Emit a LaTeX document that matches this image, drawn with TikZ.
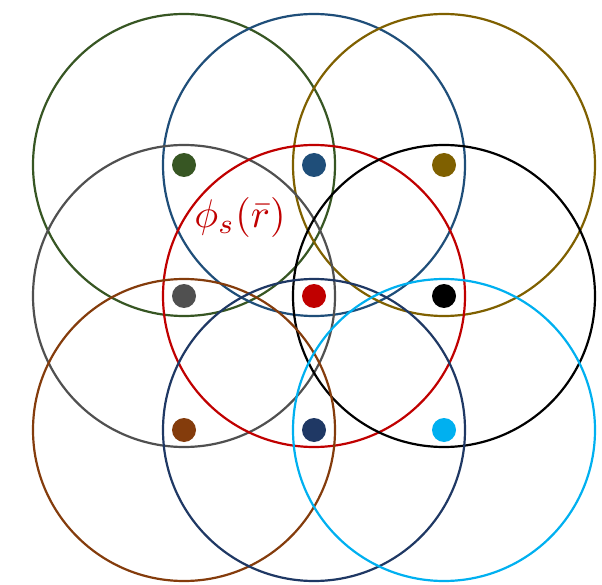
\documentclass[tikz,border=0pt]{standalone}
\usepackage{amsmath}
\usepackage{graphicx}
\usepackage{tikz}

\definecolor{verde}{HTML}{375623}
\definecolor{azul}{HTML}{1F4E79}
\definecolor{oliva}{HTML}{7F6000}
\definecolor{cinza}{HTML}{505050}
\definecolor{vermelho}{HTML}{C00000}
\definecolor{marrom}{HTML}{843C0C}
\definecolor{marinho}{HTML}{1F3864}
\definecolor{ciano}{HTML}{00B0F0}

\begin{document}
\begin{tikzpicture}[
  x=1pt, y=-1pt,
  orbita/.style={line width=2.2pt},
  ponto/.style={circle, fill, inner sep=0pt, minimum size=24pt},
  rotulo/.style={text=vermelho, inner sep=0pt},
]
\useasboundingbox (0,0) rectangle (602,585);

% ---- Centros ----------------------------------------------------------------
\coordinate (c11) at (184,165);
\coordinate (c12) at (314,165);
\coordinate (c13) at (444,165);
\coordinate (c21) at (184,296);
\coordinate (c22) at (314,296);
\coordinate (c23) at (444,296);
\coordinate (c31) at (184,430);
\coordinate (c32) at (314,430);
\coordinate (c33) at (444,430);

% ---- Circulos ---------------------------------------------------------------
\draw[orbita, verde]    (c11) circle (151pt);
\draw[orbita, azul]     (c12) circle (151pt);
\draw[orbita, oliva]    (c13) circle (151pt);
\draw[orbita, cinza]    (c21) circle (151pt);
\draw[orbita, vermelho] (c22) circle (151pt);
\draw[orbita, black]    (c23) circle (151pt);
\draw[orbita, marrom]   (c31) circle (151pt);
\draw[orbita, marinho]  (c32) circle (151pt);
\draw[orbita, ciano]    (c33) circle (151pt);

% ---- Pontos -----------------------------------------------------------------
\node[ponto, verde]    (p11) at (c11) {};
\node[ponto, azul]     (p12) at (c12) {};
\node[ponto, oliva]    (p13) at (c13) {};
\node[ponto, cinza]    (p21) at (c21) {};
\node[ponto, vermelho] (p22) at (c22) {};
\node[ponto, black]    (p23) at (c23) {};
\node[ponto, marrom]   (p31) at (c31) {};
\node[ponto, marinho]  (p32) at (c32) {};
\node[ponto, ciano]    (p33) at (c33) {};

% funcao de base
\node[rotulo] (fi) at (240,218) {\scalebox{4}{$\phi_s(\bar{r})$}};

\end{tikzpicture}
\end{document}
